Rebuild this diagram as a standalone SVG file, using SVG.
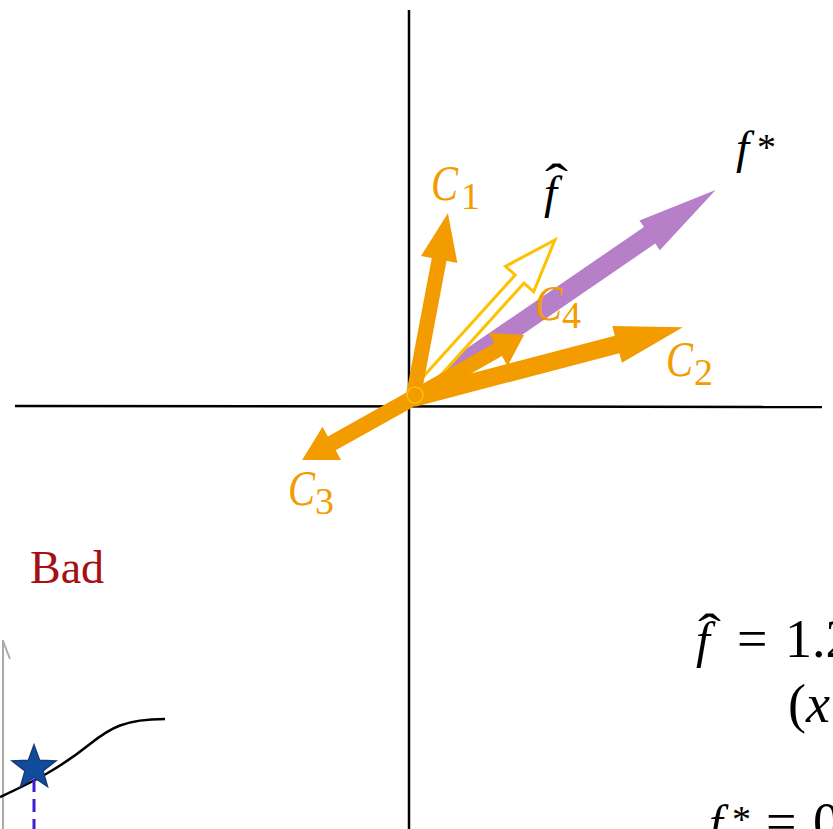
<svg xmlns="http://www.w3.org/2000/svg" width="833" height="829" viewBox="0 0 833 829">
<style>
.axis{stroke:#000;stroke-width:2.5;fill:none}
.org{fill:#F29C00}
.lbl{font-family:"Liberation Serif","DejaVu Serif",serif;font-style:italic;fill:#F29C00;font-size:50px}
.sub{font-family:"Liberation Serif","DejaVu Serif",serif;fill:#F29C00;font-size:38px}
.math{font-family:"Liberation Serif","DejaVu Serif",serif;fill:#000}
.it{font-style:italic}
.hat{font-family:"Liberation Serif","DejaVu Serif",serif;fill:#000;font-size:48px}
</style>
<rect width="833" height="829" fill="#fff"/>
<g id="axes">
<line class="axis" x1="409" y1="10" x2="409" y2="829"/>
<line class="axis" x1="15" y1="406" x2="822" y2="407"/>
</g>
<g id="connectors">
<g id="fstar-arrow"><polygon fill="#B77FC7" transform="translate(412,398) rotate(-34.4)" points="0,-10 288,-10 288,-18 368,0 288,18 288,10 0,10"/></g>
<g id="fhat-arrow"><polygon fill="#fff" stroke="#FFC000" stroke-width="3" stroke-linejoin="miter" transform="translate(413,397) rotate(-47.9)" points="0,-6 159,-6 159,-19 211.7,0 159,19 159,6 0,6"/></g>
<g id="c1-arrow"><polygon class="org" transform="translate(413,398) rotate(-79.3)" points="0,-7.5 141,-7.5 141,-18.5 188,0 141,18.5 141,7.5 0,7.5"/></g>
<g id="c4-arrow"><polygon class="org" transform="translate(413,398) rotate(-29.6)" points="0,-7.5 98,-7.5 98,-19 127.6,0 98,19 98,7.5 0,7.5"/></g>
<g id="c2-arrow"><polygon class="org" transform="translate(413,398) rotate(-14.7)" points="0,-9 211,-9 211,-19 279,0 211,19 211,9 0,9"/></g>
<g id="c3-arrow"><polygon class="org" transform="translate(413,398) rotate(150.8)" points="0,-8 93,-8 93,-19 127,0 93,19 93,8 0,8"/></g>
<circle cx="415" cy="395" r="8" fill="#F29C00" stroke="#FFC000" stroke-width="1.5"/>
</g>
<g id="label-c1"><text class="lbl" x="431" y="200" textLength="27" lengthAdjust="spacingAndGlyphs">C</text><text class="sub" x="461" y="209">1</text></g>
<g id="label-c2"><text class="lbl" x="666" y="376" textLength="27" lengthAdjust="spacingAndGlyphs">C</text><text class="sub" x="694" y="385">2</text></g>
<g id="label-c3"><text class="lbl" x="288" y="505" textLength="27" lengthAdjust="spacingAndGlyphs">C</text><text class="sub" x="315" y="514">3</text></g>
<g id="label-c4"><text class="lbl" x="535" y="320" textLength="27" lengthAdjust="spacingAndGlyphs">C</text><text class="sub" x="562" y="328">4</text></g>
<g id="label-fhat"><text class="math it" x="544" y="208" font-size="47">f</text><text class="hat" x="545" y="198" textLength="23" lengthAdjust="spacingAndGlyphs">ˆ</text></g>
<g id="label-fstar"><text class="math it" x="736" y="163" font-size="47">f</text><text class="math" x="757" y="160" font-size="38">*</text></g>
<g id="bad"><text x="30" y="583" font-family="Liberation Serif, serif" font-size="46" fill="#A50F15">Bad</text></g>
<g id="plot">
<line x1="3" y1="640" x2="3" y2="829" stroke="#AAAAAA" stroke-width="2"/>
<line x1="3" y1="641" x2="10" y2="659" stroke="#AAAAAA" stroke-width="2"/>
<path d="M0,797 C35,781 60,768 90,744 C110,728 125,719 165,719" fill="none" stroke="#000" stroke-width="2.5"/>
<line x1="34" y1="779" x2="34" y2="829" stroke="#3A1FD6" stroke-width="3" stroke-dasharray="13,7"/>
<polygon points="34,745 39.6,760.3 55.9,760.9 43,770.9 47.5,786.6 34,777.5 20.5,786.6 25,770.9 12.1,760.9 28.4,760.3" fill="#0F4C9C" stroke="#1A3A7A" stroke-width="1.5"/>
</g>
<g id="eq">
<text class="math it" x="696" y="657" font-size="50">f</text><text class="hat" x="698" y="648" textLength="23" lengthAdjust="spacingAndGlyphs">ˆ</text>
<text class="math" x="737" y="657" font-size="54">=</text>
<text class="math" x="785" y="657" font-size="54">1.2</text>
<text class="math" x="788" y="722" font-size="54">(<tspan class="it">x</tspan></text>
<text class="math it" x="709" y="840" font-size="50">f</text>
<text class="math" x="732" y="832" font-size="38">*</text>
<text class="math" x="766" y="840" font-size="54">=</text>
<text class="math" x="813" y="840" font-size="54">0</text>
</g>
</svg>
